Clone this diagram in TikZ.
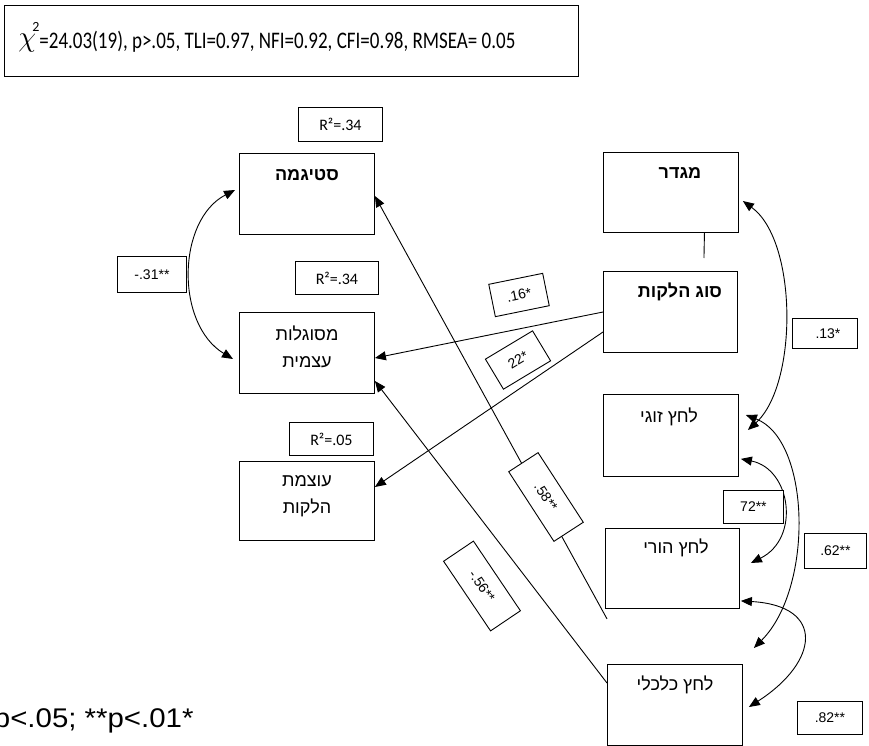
\documentclass[tikz,border=0pt]{standalone}
\usepackage{fontspec}
\setmainfont{Liberation Sans}
\newfontfamily\heb[Script=Hebrew]{Liberation Sans}
\newfontfamily\carl{Carlito}
\TeXXeTstate=1
\usetikzlibrary{arrows.meta,calc}
\begin{document}
\begin{tikzpicture}[x=1pt,y=-1pt,line width=0.9pt,
  bx/.style={draw,anchor=north west,inner sep=0pt,line width=0.9pt},
  rbx/.style={draw,fill=white,inner sep=0pt,line width=0.9pt,font=\fontsize{14}{16}\selectfont},
  num/.style={font=\fontsize{14}{16}\selectfont},
  rsq/.style={font=\carl\fontsize{16}{18}\selectfont},
  hb/.style={font=\heb\fontsize{18}{27}\selectfont,align=center,inner sep=0pt},
  hbb/.style={font=\heb\bfseries\fontsize{18}{27}\selectfont,align=center,inner sep=0pt},
  tip/.style={-{Triangle[length=11pt,width=9pt]}},
  dtip/.style={{Triangle[length=11pt,width=9pt]}-{Triangle[length=11pt,width=9pt]}}]
\useasboundingbox (0,0) rectangle (869,746);

% header
\node[bx,minimum width=574pt,minimum height=71pt] (hdr) at (4,5) {};
\node[anchor=base west,inner sep=0pt] (chi) at (18,47) {\scalebox{1.4}{\fontsize{20}{20}\selectfont$\chi$}};
\node[anchor=north west,inner sep=0pt] (chitwo) at (32,22) {\carl\fontsize{14}{14}\selectfont 2};
\node[anchor=base west,inner sep=0pt] (fit) at (39,49) {\scalebox{1}[1.25]{\carl\fontsize{19}{19}\selectfont =24.03(19), p>.05, TLI=0.97, NFI=0.92, CFI=0.98, RMSEA= 0.05}};

% variable boxes
\node[bx,minimum width=135pt,minimum height=81pt] (stig) at (239,153) {};
\node[bx,minimum width=135pt,minimum height=81pt] (self) at (239,312) {};
\node[bx,minimum width=135pt,minimum height=79pt] (sev) at (239,461) {};
\node[bx,minimum width=135pt,minimum height=80pt] (gender) at (603,152) {};
\node[bx,minimum width=134pt,minimum height=81pt] (type) at (603,271) {};
\node[bx,minimum width=135pt,minimum height=82pt] (couple) at (603,394) {};
\node[bx,minimum width=134pt,minimum height=80pt] (parent) at (605,528) {};
\node[bx,minimum width=135pt,minimum height=81pt] (econ) at (607,664) {};

% texts
\node[hbb] (tstig) at (307,175) {\beginR סטיגמה\endR};
\node[hb] (tself) at (307,346.5) {\beginR מסוגלות\endR\\\beginR עצמית\endR};
\node[hb] (tsev) at (307,496) {\beginR עוצמת\endR\\\beginR הלקות\endR};
\node[hbb] (tgender) at (680,173) {\beginR מגדר\endR};
\node[hbb] (ttype) at (680,292) {\beginR סוג הלקות\endR};
\node[hb] (tcouple) at (669,417) {\beginR לחץ זוגי\endR};
\node[hb] (tparent) at (676,548) {\beginR לחץ הורי\endR};
\node[hb] (tecon) at (675,685) {\beginR לחץ כלכלי\endR};

% R2 boxes
\node[bx,rsq,minimum width=84pt,minimum height=34pt] (r2a) at (298,107) {R²=.34};
\node[bx,rsq,minimum width=83pt,minimum height=33pt] (r2b) at (295,261) {R²=.34};
\node[bx,rsq,minimum width=84pt,minimum height=33pt] (r2c) at (289,422) {R²=.05};

% straight paths
\draw ([xshift=33.5pt]gender.south) -- ([xshift=33.5pt,yshift=13pt]type.north);
\draw[tip] ([yshift=-41pt]type.north west) -- ([yshift=-46pt]self.north east);
\draw[tip] ([yshift=-61pt]type.north west) -- ([yshift=-26pt]sev.north east);
\draw[tip] ([xshift=2pt,yshift=-10pt]parent.south west) -- ([yshift=-43pt]stig.north east);
\draw[tip] ([yshift=-19pt]econ.north west) -- ([yshift=-69pt]self.north east);

% curved correlations
\draw[dtip] ([xshift=-4pt,yshift=-37pt]stig.north west) .. controls +(-58,30) and +(-58,-35) .. ([xshift=-6pt,yshift=-47pt]self.north west);
\draw[dtip] ([xshift=4pt,yshift=-49pt]gender.north east) .. controls +(55,40) and +(50,-45) .. ([xshift=9pt,yshift=-36pt]couple.north east);
\draw[dtip] ([xshift=7pt,yshift=-21pt]couple.north east) .. controls +(65,25) and +(60,-60) .. ([xshift=11pt,yshift=16pt]econ.north east);
\draw[dtip] ([xshift=2pt,yshift=18pt]couple.south east) .. controls +(50,10) and +(50,-25) .. ([xshift=11pt,yshift=-35pt]parent.north east);
\draw[dtip] ([xshift=1pt,yshift=8pt]parent.south east) .. controls +(85,5) and +(70,-45) .. ([xshift=6pt,yshift=-43pt]econ.north east);

% coefficient boxes
\node[bx,num,minimum width=69pt,minimum height=36pt] (c31) at (117,256) {-.31**};
\node[bx,num,minimum width=65pt,minimum height=30pt] (c13) at (792,318) {\hspace*{6pt}.13*};
\node[bx,num,fill=white,minimum width=60pt,minimum height=33pt] (c72) at (723,490) {72**};
\node[bx,num,fill=white,minimum width=62pt,minimum height=35pt] (c62) at (804,533) {.62**};
\node[bx,num,minimum width=65pt,minimum height=33pt] (c82) at (797,701) {.82**};
\node[rbx,rotate=11.5,minimum width=55pt,minimum height=33pt] (c16) at (519,295) {.16*};
\node[rbx,rotate=31,minimum width=55pt,minimum height=35pt] (c22) at (518,360) {22*};
\node[rbx,rotate=-57,minimum width=83pt,minimum height=35pt] (c58) at (546,497) {.58**};
\node[rbx,rotate=-56,minimum width=84pt,minimum height=36pt] (c56) at (482,586) {-.56**};

% note
\node[anchor=base east,inner sep=0pt] (note) at (194,727) {\scalebox{1.09}[1]{\fontsize{27}{27}\selectfont p<.05; **p<.01*}};
\end{tikzpicture}
\end{document}
